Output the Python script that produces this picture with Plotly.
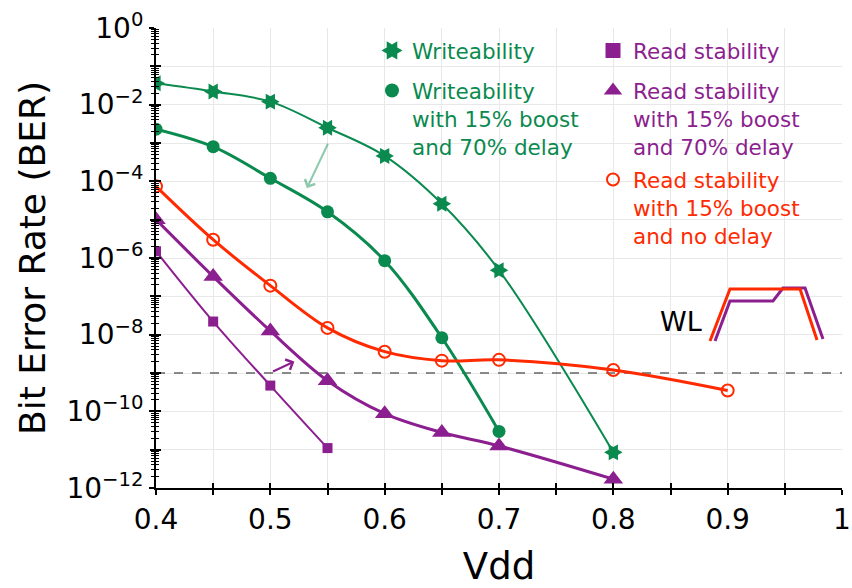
import plotly.graph_objects as go

# ---------------- data ----------------
vdd_write = [0.40, 0.45, 0.50, 0.55, 0.60, 0.65, 0.70, 0.80]
ber_write = [3.6e-2, 2.2e-2, 1.2e-2, 2.5e-3, 4.6e-4, 2.6e-5, 4.8e-7, 8.5e-12]

vdd_write_boost = [0.40, 0.45, 0.50, 0.55, 0.60, 0.65, 0.70]
ber_write_boost = [2.3e-3, 8.0e-4, 1.2e-4, 1.6e-5, 8.5e-7, 8.3e-9, 3.0e-11]

vdd_read = [0.40, 0.45, 0.50, 0.55]
ber_read = [1.5e-6, 2.2e-8, 4.7e-10, 1.1e-11]

vdd_read_boost_delay = [0.40, 0.45, 0.50, 0.55, 0.60, 0.65, 0.70, 0.80]
ber_read_boost_delay = [1.0e-5, 3.3e-7, 1.25e-8, 6.3e-10, 8.7e-11, 2.8e-11, 1.25e-11, 1.7e-12]

vdd_read_boost_nodelay = [0.40, 0.45, 0.50, 0.55, 0.60, 0.65, 0.70, 0.80, 0.90]
ber_read_boost_nodelay = [7.4e-5, 3.0e-6, 1.9e-7, 1.5e-8, 3.6e-9, 2.1e-9, 2.2e-9, 1.2e-9, 3.5e-10]

ber_threshold = 1e-9

x_range = [0.4, 1.0]
x_label_vals = [0.4, 0.5, 0.6, 0.7, 0.8, 0.9, 1.0]
x_label_text = ["0.4", "0.5", "0.6", "0.7", "0.8", "0.9", "1"]
x_half_vals = [0.45, 0.55, 0.65, 0.75, 0.85, 0.95]
y_label_exp = [0, -2, -4, -6, -8, -10, -12]
y_label_text = ["10<sup>0</sup>" if e == 0 else "10<sup>\u2212%d</sup>" % (-e) for e in y_label_exp]
y_odd_exp = [-1, -3, -5, -7, -9, -11]

names = {
    "write": ["Writeability"],
    "write_boost": ["Writeability", "with 15% boost", "and 70% delay"],
    "read": ["Read stability"],
    "read_boost_delay": ["Read stability", "with 15% boost", "and 70% delay"],
    "read_boost_nodelay": ["Read stability", "with 15% boost", "and no delay"],
}

# ---------------- styles ----------------
GREEN = "#0a8a4e"
PURPLE = "#8c1f8f"
RED = "#ff2a00"
GRID = "#e8e8e8"
FONT = "DejaVu Sans"

W, H = 852, 588
ML, MR, MT, MB = 156, 10, 28, 100
PW, PH = W - ML - MR, H - MT - MB


def px2paper(px, py):
    return (px - ML) / PW, (H - MB - py) / PH


def colored(lines, color):
    return "<br>".join("<span style='color:%s'>%s</span>" % (color, l) for l in lines)


fig = go.Figure()

# threshold line
fig.add_trace(go.Scatter(x=x_range, y=[ber_threshold, ber_threshold],
                         mode="lines", line=dict(color="#666666", width=1.6, dash="dash"),
                         showlegend=False, hoverinfo="skip"))

fig.add_trace(go.Scatter(x=vdd_write, y=ber_write, mode="lines+markers", line_shape="spline",
                         line=dict(color=GREEN, width=2),
                         marker=dict(symbol="hexagram", size=14, color=GREEN, angle=90),
                         showlegend=False))
fig.add_trace(go.Scatter(x=vdd_write_boost, y=ber_write_boost, mode="lines+markers", line_shape="spline",
                         line=dict(color=GREEN, width=3),
                         marker=dict(symbol="circle", size=13, color=GREEN),
                         showlegend=False))
fig.add_trace(go.Scatter(x=vdd_read, y=ber_read, mode="lines+markers", line_shape="spline",
                         line=dict(color=PURPLE, width=2),
                         marker=dict(symbol="square", size=10, color=PURPLE),
                         showlegend=False))
fig.add_trace(go.Scatter(x=vdd_read_boost_delay, y=ber_read_boost_delay, mode="lines+markers",
                         line_shape="spline", line=dict(color=PURPLE, width=3),
                         marker=dict(symbol="triangle-up", size=17, color=PURPLE),
                         showlegend=False))
fig.add_trace(go.Scatter(x=vdd_read_boost_nodelay, y=ber_read_boost_nodelay, mode="lines+markers",
                         line_shape="spline", line=dict(color=RED, width=3),
                         marker=dict(symbol="circle-open", size=12, color=RED, line=dict(width=2)),
                         showlegend=False))

# legend entries, each in its own legend box (px positions of box top-left)
legend_items = [
    ("legend", names["write"], GREEN, dict(symbol="hexagram", size=16, color=GREEN, angle=90), 372, 30),
    ("legend2", names["write_boost"], GREEN, dict(symbol="circle", size=14, color=GREEN), 372, 70),
    ("legend3", names["read"], PURPLE, dict(symbol="square", size=15, color=PURPLE), 593, 30),
    ("legend4", names["read_boost_delay"], PURPLE, dict(symbol="triangle-up", size=16, color=PURPLE), 593, 70),
    ("legend5", names["read_boost_nodelay"], RED,
     dict(symbol="circle-open", size=12, color=RED, line=dict(width=2)), 593, 159),
]
legend_layouts = {}
for lg, lines, col, mk, lx, ly in legend_items:
    fig.add_trace(go.Scatter(x=[None], y=[None], mode="markers", marker=mk,
                             name=colored(lines, col), legend=lg, showlegend=True))
    px, py = px2paper(lx, ly)
    legend_layouts[lg] = dict(x=px, y=py, xanchor="left", yanchor="top",
                              bgcolor="rgba(0,0,0,0)", font=dict(size=21.5, family=FONT),
                              valign="top", itemclick=False, itemdoubleclick=False)

# overlay axes (for crossing ticks) need a subplot
fig.add_trace(go.Scatter(x=[None], y=[None], xaxis="x2", yaxis="y2", showlegend=False))
fig.add_trace(go.Scatter(x=[None], y=[None], xaxis="x2", yaxis="y3", showlegend=False))

fig.update_layout(
    width=W, height=H,
    margin=dict(l=ML, r=MR, t=MT, b=MB, pad=0, autoexpand=False),
    plot_bgcolor="white", paper_bgcolor="white",
    font=dict(family=FONT, color="black"),
    showlegend=True,
    xaxis=dict(range=x_range, tickmode="array", tickvals=x_label_vals, ticktext=x_label_text,
               automargin=False,
               showline=True, linecolor="black", linewidth=2, zeroline=False,
               ticks="outside", ticklen=5, tickcolor="black", tickwidth=1.5,
               showgrid=True, gridcolor=GRID, gridwidth=1,
               minor=dict(tickmode="array", tickvals=x_half_vals, ticks="outside", ticklen=5,
                          tickcolor="black", tickwidth=1.5, showgrid=True, gridcolor=GRID, gridwidth=1),
               tickfont=dict(size=28, family=FONT),
               title=dict(text="Vdd", font=dict(size=37, family=FONT), standoff=37)),
    yaxis=dict(type="log", range=[-12, 0], tickmode="array",
               tickvals=[10.0 ** e for e in y_label_exp], ticktext=y_label_text,
               automargin=False,
               showline=True, linecolor="black", linewidth=2, zeroline=False,
               ticks="outside", ticklen=5, tickcolor="black", tickwidth=1.5,
               showgrid=True, gridcolor=GRID, gridwidth=1,
               minor=dict(ticks="outside", ticklen=3, tickcolor="black", tickwidth=1.2,
                          dtick="D1", showgrid=False),
               tickfont=dict(size=28, family=FONT),
               title=dict(text="Bit Error Rate (BER)", font=dict(size=36, family=FONT), standoff=10)),
    xaxis2=dict(overlaying="x", anchor="y2", range=x_range, tickmode="array", automargin=False,
                tickvals=x_label_vals + x_half_vals, ticks="inside", ticklen=5, tickcolor="black",
                tickwidth=1.5, showticklabels=False, showgrid=False, zeroline=False, showline=False),
    yaxis2=dict(overlaying="y", anchor="x2", type="log", range=[-12, 0], tickmode="array",
                automargin=False,
                tickvals=[10.0 ** e for e in y_label_exp + y_odd_exp], ticks="inside", ticklen=5,
                tickcolor="black", tickwidth=1.5, showgrid=True, gridcolor=GRID, gridwidth=1,
                minor=dict(ticks="inside", ticklen=3, tickcolor="black", tickwidth=1.2, dtick="D1"),
                showticklabels=False, zeroline=False, showline=False),
    yaxis3=dict(overlaying="y", anchor="x2", type="log", range=[-12, 0], tickmode="array",
                automargin=False,
                tickvals=[10.0 ** e for e in y_odd_exp], ticks="outside", ticklen=5,
                tickcolor="black", tickwidth=1.5, showgrid=False,
                showticklabels=False, zeroline=False, showline=False),
    **legend_layouts,
)

# arrows (data coords; log axis positions given as exponents)
fig.add_annotation(x=0.532, y=-4.18, ax=0.551, ay=-2.98, xref="x", yref="y", axref="x", ayref="y",
                   showarrow=True, arrowhead=4, arrowsize=1.1, arrowwidth=2,
                   arrowcolor="rgba(10,138,78,0.45)", text="")
fig.add_annotation(x=0.521, y=-8.70, ax=0.501, ay=-8.98, xref="x", yref="y", axref="x", ayref="y",
                   showarrow=True, arrowhead=4, arrowsize=1.1, arrowwidth=2,
                   arrowcolor=PURPLE, text="")

# WL inset (pixel sketch converted to paper coords)
wl_red = [(710, 341), (730, 289), (800, 289), (817, 340)]
wl_purple = [(715, 341), (730, 301), (773, 301), (783, 288), (805, 288), (823, 339)]
for pts, col in [(wl_purple, PURPLE), (wl_red, RED)]:
    pp = [px2paper(*p) for p in pts]
    path = "M " + " L ".join("%.4f,%.4f" % p for p in pp)
    fig.add_shape(type="path", path=path, xref="paper", yref="paper",
                  line=dict(color=col, width=3), fillcolor="rgba(0,0,0,0)")
wx, wy = px2paper(681, 321)
fig.add_annotation(x=wx, y=wy, xref="paper", yref="paper", text="WL", showarrow=False,
                   xanchor="center", yanchor="middle",
                   font=dict(size=27, family=FONT, color="black"))

fig.write_html("out.html")
